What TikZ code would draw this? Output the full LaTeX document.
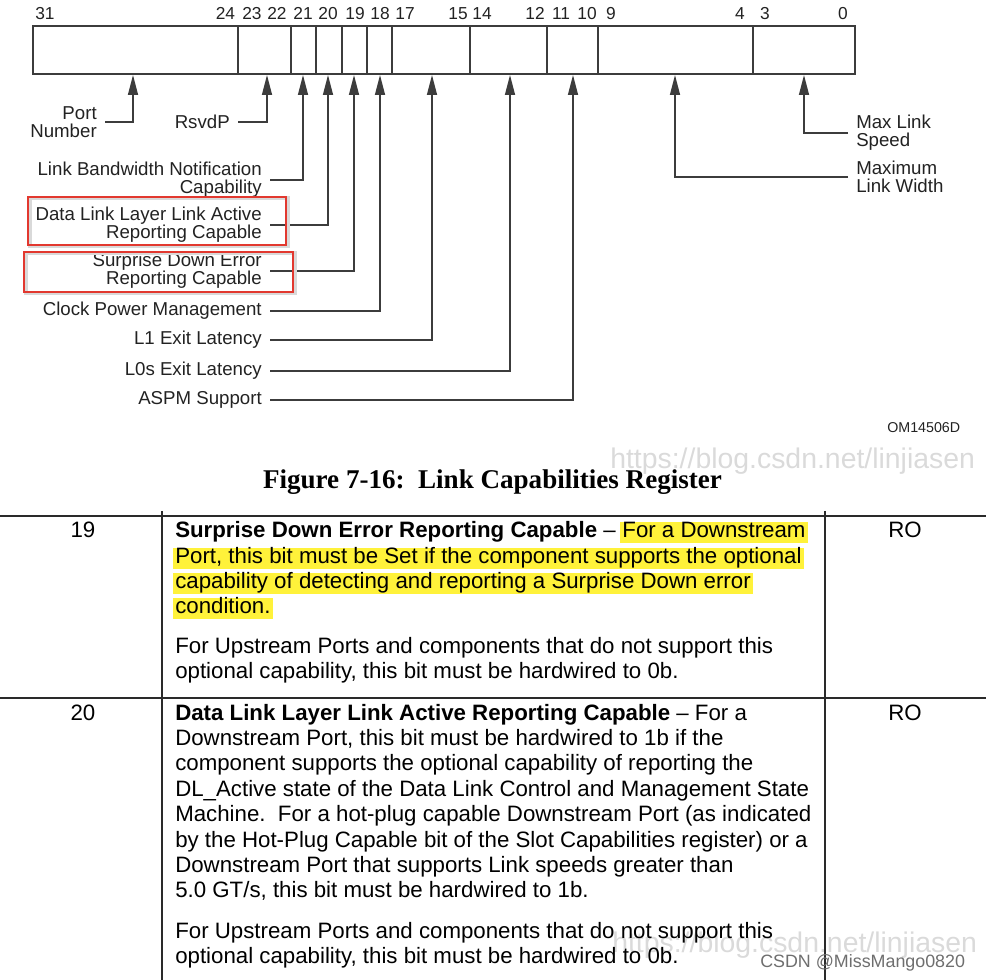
\documentclass[tikz,border=0pt]{standalone}
\usepackage{fontspec}
\setmainfont{Liberation Sans}
\newfontfamily\captionserif{Liberation Serif}
\usepackage{xcolor}
\definecolor{regLine}{HTML}{3C3C3C}
\definecolor{regText}{HTML}{222222}
\definecolor{markRed}{HTML}{E2382F}
\definecolor{hlYellow}{HTML}{FFF23A}
\definecolor{ruleDark}{HTML}{2A2A2A}
\definecolor{wmGray}{HTML}{DADADA}
\definecolor{wmDark}{HTML}{6E6E6E}
\usepackage{tikz}
\usetikzlibrary{arrows.meta,positioning,calc}
\tikzset{
  >={Triangle[length=15pt,width=7.5pt]},
  bitnum/.style={font=\fontsize{13}{13}\selectfont,text=regText,inner sep=0pt,anchor=base},
  field/.style={draw=regLine,line width=1.5pt},
  lbl/.style={font=\fontsize{14}{13.5}\selectfont,text=regText,inner xsep=6pt,inner ysep=0pt},
  lblleft/.style={lbl,align=right,anchor=east},
  lblright/.style={lbl,align=left,anchor=west},
  conn/.style={->,draw=regLine,line width=1.1pt},
  redframe/.style={draw=markRed,line width=2.2pt},
  body/.style={font=\fontsize{16.7}{19}\selectfont,text=black,inner sep=0pt,anchor=base west},
  hilite/.style={fill=hlYellow,inner xsep=1.5pt,text height=12pt,text depth=3.8pt,xshift=-1.5pt},
  cellnum/.style={font=\fontsize{16.7}{19}\selectfont,inner sep=0pt,anchor=base},
  tablerule/.style={draw=ruleDark,line width=2.2pt},
  watermark/.style={font=\fontsize{21.3}{21.3}\selectfont,text=wmGray,inner sep=0pt,anchor=base west},
}

\begin{document}
\begin{tikzpicture}[x=0.75pt,y=-0.75pt]
  \useasboundingbox (0,0) rectangle (986,980);

  % register fields
  \draw[field] (33,26) rectangle (855,74);
  \foreach \d in {238,291,316,342,367,392,470,547,598,753}
    \draw[field,line width=1.1pt] (\d,26) -- (\d,74);
  \foreach \b/\x in {31/45,24/225.5,23/252,22/277,21/303,20/328,19/355,18/380,17/405,15/458,14/482,12/535,11/561,10/587,9/611,4/740,3/765,0/843}
    \node[bitnum] (n\b) at (\x,19.5) {\b};
  \foreach \n/\x in {port/133,rsvd/267,b21/303,b20/328,b19/354,b18/380,b17/432,b14/510,b11/573,b9/675,b3/804}
    \coordinate (\n) at (\x,75);

  % field labels
  \node[lblleft] (portnum) at (105,122) {Port\\Number};
  \node[lblleft] (rsvdp) at (238,122) {RsvdP};
  \node[lblleft] (lbn) at (270,180) {Link Bandwidth Notification\\Capability};
  \node[lblleft] (dll) at (270,225) {Data Link Layer Link Active\\Reporting Capable};
  \node[lblleft] (sde) at (270,271) {Surprise Down Error\\Reporting Capable};
  \node[lblleft] (cpm) at (270,311) {Clock Power Management};
  \node[lblleft] (l1) at (270,340) {L1 Exit Latency};
  \node[lblleft] (l0s) at (270,371) {L0s Exit Latency};
  \node[lblleft] (aspm) at (270,400) {ASPM Support};
  \node[lblright] (mls) at (848,133) {Max Link\\Speed};
  \node[lblright] (mlw) at (848,177) {Maximum\\Link Width};

  \draw[conn] (portnum.east) -| (port);
  \draw[conn] (rsvdp.east) -| (rsvd);
  \draw[conn] (lbn.east) -| (b21);
  \draw[conn] (dll.east) -| (b20);
  \draw[conn] (sde.east) -| (b19);
  \draw[conn] (cpm.east) -| (b18);
  \draw[conn] (l1.east) -| (b17);
  \draw[conn] (l0s.east) -| (b14);
  \draw[conn] (aspm.east) -| (b11);
  \draw[conn] (mlw.west) -| (b9);
  \draw[conn] (mls.west) -| (b3);

  \draw[black!15,line width=3pt] (29.5,198.5) rectangle (287.5,246.5);
  \draw[black!15,line width=3pt] (25.5,253.5) rectangle (294.5,293.5);
  \draw[redframe] (28,197) rectangle (286,245);
  \draw[redframe] (24,252) rectangle (293,292);

  \node[font=\fontsize{10.7}{10.7}\selectfont,text=regText,inner sep=0pt,anchor=base west] (omref) at (887,433) {OM14506D};
  \node[watermark] (wmtop) at (610,469) {https://blog.csdn.net/linjiasen};
  \node[font=\captionserif\bfseries\fontsize{20.3}{20.3}\selectfont,inner sep=0pt,anchor=base] (figcap) at (492.5,489) {Figure 7-16:\ \ Link Capabilities Register};

  % table
  \node[watermark] (wmbot) at (612,952) {https://blog.csdn.net/linjiasen};
  \draw[tablerule] (0,516) -- (986,516);
  \draw[tablerule] (0,698) -- (986,698);
  \draw[tablerule] (162,511) -- (162,980);
  \draw[tablerule] (825,511) -- (825,980);

  \node[cellnum] (bit19) at (83,538) {19};
  \node[cellnum] (ro19) at (905,538) {RO};
  \node[body] (d19a) at (175,538) {\textbf{Surprise Down Error Reporting Capable} –};
  \node[body,hilite,anchor=base west] (d19b) at ([xshift=4.6pt]d19a.base east) {For a Downstream};
  \node[body,hilite] (d19c) at (175,564) {Port, this bit must be Set if the component supports the optional};
  \node[body,hilite] (d19d) at (175,589) {capability of detecting and reporting a Surprise Down error};
  \node[body,hilite] (d19e) at (175,614) {condition.};
  \node[body] (d19f) at (175,653) {For Upstream Ports and components that do not support this};
  \node[body] (d19g) at (175,678) {optional capability, this bit must be hardwired to 0b.};

  \node[cellnum] (bit20) at (83,720) {20};
  \node[cellnum] (ro20) at (905,720) {RO};
  \node[body] (d20a) at (175,720) {\textbf{Data Link Layer Link Active Reporting Capable} – For a};
  \foreach \k/\yy/\txt in {
      b/745/{Downstream Port, this bit must be hardwired to 1b if the},
      c/770/{component supports the optional capability of reporting the},
      d/796/{DL\_Active state of the Data Link Control and Management State},
      e/821/{Machine.\ \ For a hot-plug capable Downstream Port (as indicated},
      f/847/{by the Hot-Plug Capable bit of the Slot Capabilities register) or a},
      g/872/{Downstream Port that supports Link speeds greater than},
      h/897/{5.0 GT/s, this bit must be hardwired to 1b.},
      i/938/{For Upstream Ports and components that do not support this},
      j/963/{optional capability, this bit must be hardwired to 0b.}}
    \node[body] (d20\k) at (175,\yy) {\txt};

  \node[font=\fontsize{13.4}{13.4}\selectfont,text=wmDark,inner sep=0pt,anchor=base west] (csdn) at (760,967) {CSDN @MissMango0820};
\end{tikzpicture}
\end{document}
